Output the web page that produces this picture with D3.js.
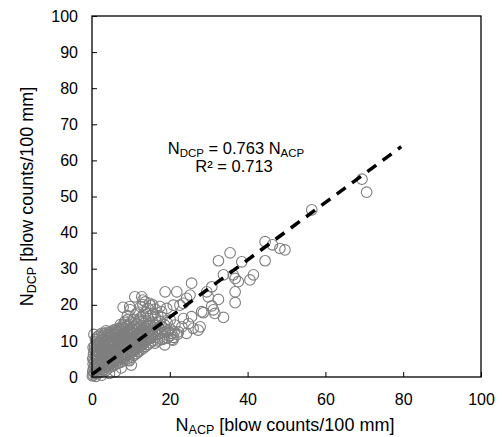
<!DOCTYPE html>
<html lang="en">
<head>
<meta charset="UTF-8">
<title>NDCP vs NACP</title>
<script src="https://cdn.jsdelivr.net/npm/d3@7"></script>
<style>
body { margin: 0; background: #fff; }
svg { font-family: Arial, "Liberation Sans", sans-serif; }
</style>
</head>
<body>
<svg id="chart" width="502" height="437"></svg>
<script>
// axis ticks
const xTicks = [0, 20, 40, 60, 80, 100];
const yTicks = [0, 10, 20, 30, 40, 50, 60, 70, 80, 90, 100];

// trend line ends [NACP, NDCP]
const trendAcp = [0, 79.5];
const trendDcp = [0.7, 63.8];

// scattered points away from the main cloud [NACP, NDCP]
const sparsePoints = [
    [69.4, 54.8], [70.6, 51.2], [56.5, 46.3], [44.5, 37.5], [46.4, 36.6], [48.3, 35.6],
    [49.6, 35.2], [44.5, 32.2], [35.5, 34.4], [32.5, 32.2], [38.5, 31.9], [33.8, 28.3],
    [36.3, 28.3], [36.8, 27.3], [41.5, 28.3], [40.6, 26.9], [37.6, 26.4], [36.8, 23.6],
    [36.8, 20.6], [30.8, 25.0], [29.5, 23.6], [29.9, 22.2], [32.5, 21.5], [30.8, 19.7],
    [31.2, 18.6], [31.6, 17.6], [28.6, 17.8], [33.8, 16.5], [27.8, 13.9], [28.2, 18.1],
    [25.6, 26.0], [18.8, 23.6], [21.8, 23.6], [25.2, 22.7], [24.3, 21.8], [23.5, 20.4],
    [22.6, 19.9], [20.9, 19.9], [19.2, 19.0], [17.9, 18.1], [17.5, 19.5], [25.6, 16.7],
    [23.5, 16.2], [24.8, 14.8], [26.0, 13.5], [27.3, 13.0], [23.1, 13.9], [21.3, 14.4],
    [20.1, 15.8], [22.2, 12.5], [24.3, 12.1], [20.5, 12.1], [18.8, 13.0], [20.5, 10.4],
    [8.0, 19.3], [9.8, 18.6], [12.8, 22.2], [11.0, 22.2], [13.1, 21.3], [14.8, 20.4],
    [9.7, 19.5], [10.1, 3.3], [9.3, 4.7], [11.8, 7.0], [18.7, 8.9], [20.8, 10.2]
];

// dense cloud near the origin [NACP, NDCP]
const clusterPoints = [
    [0.1, 0.3], [1.0, 0.2], [2.5, 0.5], [4.5, 1.0], [6.0, 1.5], [7.5, 2.5],
    [0.3, 0.6], [0.2, 1.6], [0.4, 2.5], [0.3, 3.6], [0.2, 5.1], [0.4, 6.4], [0.3, 8.2], [0.5, 11.8],
    [0.8, 0.9], [0.9, 2.0], [0.7, 3.1], [0.8, 4.3], [0.9, 5.6], [0.8, 7.1], [0.7, 8.6], [0.9, 10.4],
    [1.3, 1.0], [1.4, 2.3], [1.2, 3.5], [1.3, 4.8], [1.4, 6.1], [1.3, 7.3], [1.2, 9.1], [1.4, 11.1],
    [1.8, 1.3], [1.9, 2.8], [1.7, 4.1], [1.8, 5.2], [1.9, 6.6], [1.8, 8.0], [1.7, 9.6], [1.9, 11.6],
    [2.4, 1.5], [2.5, 3.0], [2.3, 4.5], [2.4, 5.8], [2.5, 7.1], [2.4, 8.5], [2.3, 10.0], [2.5, 12.1],
    [3.0, 2.0], [3.1, 3.5], [2.9, 5.0], [3.0, 6.2], [3.1, 7.6], [3.0, 9.0], [2.9, 10.5], [3.1, 12.0],
    [3.6, 1.8], [3.7, 3.2], [3.5, 4.6], [3.6, 6.0], [3.7, 7.3], [3.6, 8.6], [3.5, 10.0], [3.7, 11.5], [3.6, 12.8],
    [4.2, 2.5], [4.3, 4.0], [4.1, 5.3], [4.2, 6.6], [4.3, 7.8], [4.2, 9.2], [4.1, 10.6], [4.3, 12.2],
    [4.8, 2.8], [4.9, 4.2], [4.7, 5.6], [4.8, 7.0], [4.9, 8.4], [4.8, 9.8], [4.7, 11.2], [4.9, 12.5],
    [5.4, 3.0], [5.5, 4.5], [5.3, 6.0], [5.4, 7.4], [5.5, 8.8], [5.4, 10.2], [5.3, 11.6], [5.5, 13.0],
    [6.0, 3.5], [6.1, 5.0], [5.9, 6.4], [6.0, 7.8], [6.1, 9.2], [6.0, 10.5], [5.9, 11.8], [6.1, 13.2],
    [6.6, 3.8], [6.7, 5.2], [6.5, 6.8], [6.6, 8.2], [6.7, 9.6], [6.6, 11.0], [6.5, 12.4],
    [7.2, 4.0], [7.3, 5.6], [7.1, 7.2], [7.2, 8.6], [7.3, 10.0], [7.2, 11.4], [7.1, 12.8], [7.3, 14.5],
    [7.8, 4.4], [7.9, 6.0], [7.7, 7.5], [7.8, 9.0], [7.9, 10.4], [7.8, 11.8], [7.7, 13.2],
    [8.4, 4.8], [8.5, 6.4], [8.3, 8.0], [8.4, 9.5], [8.5, 10.8], [8.4, 12.2], [8.3, 13.6], [8.5, 15.5],
    [9.0, 5.0], [9.1, 6.8], [8.9, 8.4], [9.0, 9.8], [9.1, 11.2], [9.0, 12.6], [8.9, 14.0], [9.1, 17.0],
    [9.6, 4.5], [9.7, 7.0], [9.5, 8.8], [9.6, 10.2], [9.7, 11.6], [9.6, 13.0], [9.5, 14.6],
    [10.2, 5.5], [10.3, 7.5], [10.1, 9.2], [10.2, 10.6], [10.3, 12.0], [10.2, 13.5], [10.1, 15.2],
    [10.8, 6.0], [10.9, 8.0], [10.7, 9.6], [10.8, 11.0], [10.9, 12.4], [10.8, 14.0], [10.7, 16.0],
    [11.4, 6.5], [11.5, 8.5], [11.3, 10.0], [11.4, 11.5], [11.5, 13.0], [11.4, 14.6], [11.3, 17.5],
    [12.0, 7.0], [12.1, 9.0], [11.9, 10.5], [12.0, 12.0], [12.1, 13.6], [12.0, 15.5], [11.9, 18.0],
    [12.6, 7.5], [12.7, 9.5], [12.5, 11.0], [12.6, 12.5], [12.7, 14.2], [12.6, 16.5], [12.5, 19.5],
    [13.2, 8.0], [13.3, 10.0], [13.1, 11.5], [13.2, 13.0], [13.3, 14.8], [13.2, 17.0], [13.1, 20.0],
    [13.8, 8.5], [13.9, 10.2], [13.7, 11.8], [13.8, 13.5], [13.9, 15.5], [13.8, 18.0], [13.7, 20.8],
    [14.4, 9.0], [14.5, 10.8], [14.3, 12.4], [14.4, 14.0], [14.5, 16.2], [14.4, 19.0],
    [15.0, 9.5], [15.1, 11.2], [14.9, 12.8], [15.0, 14.6], [15.1, 17.0], [15.0, 19.8],
    [15.6, 10.0], [15.7, 11.5], [15.5, 13.2], [15.6, 15.2], [15.7, 17.5], [15.6, 20.0],
    [16.2, 9.4], [16.3, 11.0], [16.1, 12.6], [16.2, 14.4], [16.3, 16.5], [16.2, 18.8],
    [16.8, 10.0], [16.9, 11.8], [16.7, 13.2], [16.8, 15.0], [16.9, 17.0],
    [17.4, 10.2], [17.5, 12.0], [17.3, 13.5], [17.4, 15.5],
    [18.0, 10.4], [18.1, 12.2], [17.9, 14.0], [18.0, 16.5],
    [18.7, 10.6], [18.8, 12.5], [18.6, 14.5],
    [19.4, 10.8], [19.5, 12.8], [19.3, 15.0],
    [20.2, 11.5], [20.1, 13.3], [21.0, 11.0], [21.1, 12.5], [22.0, 11.8],
    // second pass over the densest part of the cloud
    [0.6, 1.2], [0.5, 4.8], [0.6, 7.6], [1.1, 2.9], [1.0, 5.9], [1.1, 9.8],
    [1.6, 3.4], [1.5, 7.0], [1.6, 10.5], [2.1, 2.2], [2.2, 5.2], [2.0, 8.8],
    [2.7, 3.9], [2.6, 6.6], [2.8, 9.6], [2.7, 11.3], [3.3, 2.7], [3.4, 5.5],
    [3.2, 8.2], [3.3, 11.0], [3.9, 3.7], [3.8, 6.8], [4.0, 9.7], [3.9, 12.4],
    [4.5, 3.3], [4.6, 6.1], [4.4, 8.7], [4.5, 11.7], [5.1, 3.8], [5.0, 6.6],
    [5.2, 9.3], [5.1, 12.0], [5.7, 4.2], [5.8, 7.0], [5.6, 9.7], [5.7, 12.6],
    [6.3, 4.4], [6.2, 7.3], [6.4, 10.0], [6.3, 12.9], [6.9, 4.7], [7.0, 7.8],
    [6.8, 10.6], [6.9, 13.4], [7.5, 5.2], [7.4, 8.2], [7.6, 10.9], [7.5, 13.8],
    [8.1, 5.6], [8.0, 8.6], [8.2, 11.4], [8.1, 14.6], [8.7, 6.0], [8.8, 9.0],
    [8.6, 11.8], [8.7, 15.0], [9.3, 6.2], [9.2, 9.4], [9.4, 12.2], [9.3, 16.0],
    [9.9, 6.6], [10.0, 9.8], [9.8, 12.8], [10.5, 7.0], [10.4, 10.3], [10.6, 13.0],
    [11.1, 7.4], [11.0, 10.7], [11.2, 14.0], [11.7, 8.0], [11.8, 11.2], [11.6, 14.8],
    [12.3, 8.4], [12.4, 11.8], [12.3, 16.0], [12.9, 9.0], [13.0, 12.3], [13.5, 9.6],
    [13.6, 12.8], [14.1, 10.2], [14.2, 13.4], [14.7, 10.6], [14.8, 14.2], [15.3, 11.0]
];

const svg = d3.select("#chart");
const margin = {left: 92, right: 481, top: 16, bottom: 377};

const x = d3.scaleLinear().domain([0, 100]).range([margin.left, margin.right]);
const y = d3.scaleLinear().domain([0, 100]).range([margin.bottom, margin.top]);

// y axis, ticks pointing into the plot
svg.append("g")
    .attr("transform", `translate(${margin.left},0)`)
    .call(d3.axisLeft(y).tickValues(yTicks).tickSize(-5).tickPadding(14).tickSizeOuter(0))
    .call(g => g.select(".domain").remove())
    .call(g => g.selectAll("text").attr("font-size", 16).attr("fill", "#000")
        .attr("font-family", "Arial, 'Liberation Sans', sans-serif"))
    .call(g => g.selectAll("line").attr("stroke", "#000"));

// x axis
svg.append("g")
    .attr("transform", `translate(0,${margin.bottom})`)
    .call(d3.axisBottom(x).tickValues(xTicks).tickSize(-5).tickPadding(17).tickSizeOuter(0))
    .call(g => g.select(".domain").remove())
    .call(g => g.selectAll("text").attr("font-size", 16).attr("fill", "#000")
        .attr("font-family", "Arial, 'Liberation Sans', sans-serif"))
    .call(g => g.selectAll("line").attr("stroke", "#000"));

// points
const allPoints = clusterPoints.concat(sparsePoints);
svg.append("g")
    .selectAll("circle")
    .data(allPoints)
    .join("circle")
    .attr("cx", d => x(d[0]))
    .attr("cy", d => y(d[1]))
    .attr("r", 5.3)
    .attr("fill", "none")
    .attr("stroke", "#7f7f7f")
    .attr("stroke-width", 1.1);

// trend line
svg.append("line")
    .attr("x1", x(trendAcp[0])).attr("y1", y(trendDcp[0]))
    .attr("x2", x(trendAcp[1])).attr("y2", y(trendDcp[1]))
    .attr("stroke", "#000")
    .attr("stroke-width", 3.5)
    .attr("stroke-dasharray", "11,8");

// plot frame
svg.append("rect")
    .attr("x", margin.left).attr("y", margin.top)
    .attr("width", margin.right - margin.left).attr("height", margin.bottom - margin.top)
    .attr("fill", "none")
    .attr("stroke", "#000")
    .attr("stroke-width", 1.3);

// equation text
const eq = svg.append("text")
    .attr("x", 236).attr("y", 154)
    .attr("text-anchor", "middle")
    .attr("font-size", 16.5);
eq.append("tspan").text("N");
eq.append("tspan").attr("font-size", 11.5).attr("dy", 2.5).text("DCP");
eq.append("tspan").attr("dy", -2.5).text(" = 0.763 N");
eq.append("tspan").attr("font-size", 11.5).attr("dy", 2.5).text("ACP");

svg.append("text")
    .attr("x", 234).attr("y", 172)
    .attr("text-anchor", "middle")
    .attr("font-size", 16.5)
    .text("R² = 0.713");

// axis titles
const xt = svg.append("text")
    .attr("x", 285).attr("y", 431)
    .attr("text-anchor", "middle")
    .attr("font-size", 18);
xt.append("tspan").text("N");
xt.append("tspan").attr("font-size", 12.5).attr("dy", 3).text("ACP");
xt.append("tspan").attr("dy", -3).text("  [blow counts/100 mm]");

const yt = svg.append("text")
    .attr("transform", `translate(33,${(margin.top + margin.bottom) / 2}) rotate(-90)`)
    .attr("text-anchor", "middle")
    .attr("font-size", 18);
yt.append("tspan").text("N");
yt.append("tspan").attr("font-size", 12.5).attr("dy", 3).text("DCP");
yt.append("tspan").attr("dy", -3).text("  [blow counts/100 mm]");
</script>
</body>
</html>
